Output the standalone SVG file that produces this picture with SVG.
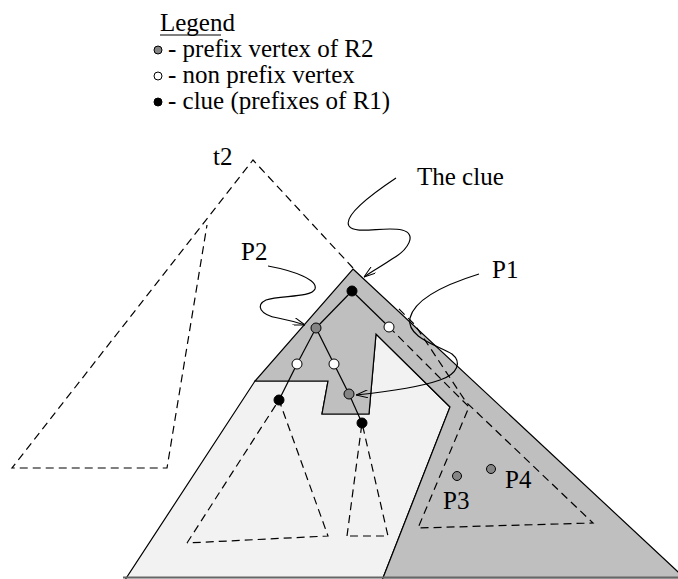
<svg xmlns="http://www.w3.org/2000/svg" width="678" height="579" viewBox="0 0 678 579">
<style>
text{font-family:"Liberation Serif","Times New Roman",serif;font-size:25px;fill:#000}
.sol{fill:none;stroke:#000;stroke-width:1.2}
.dash{fill:none;stroke:#000;stroke-width:1.2;stroke-dasharray:8 5}
.arr{fill:none;stroke:#000;stroke-width:1.2;marker-end:url(#ah)}
.vb{fill:#000;stroke:#000;stroke-width:1}
.vg{fill:#858585;stroke:#000;stroke-width:1}
.vw{fill:#fff;stroke:#000;stroke-width:1}
</style>
<defs>
<marker id="ah" viewBox="0 0 12 8" refX="12" refY="4" markerWidth="12" markerHeight="8" markerUnits="userSpaceOnUse" orient="auto">
<path d="M0,0 L12,4 L0,8" fill="none" stroke="#000" stroke-width="1"/>
</marker>
</defs>
<rect width="678" height="579" fill="#fff"/>

<g id="legend">
<text x="160" y="31">Legend</text>
<line x1="160" y1="35" x2="221" y2="35" stroke="#000" stroke-width="1"/>
<circle class="vg" cx="158" cy="50" r="4"/>
<text x="168" y="57">- prefix vertex of R2</text>
<circle class="vw" cx="158" cy="76" r="4"/>
<text x="168" y="83">- non prefix vertex</text>
<circle class="vb" cx="158" cy="102" r="4"/>
<text x="168" y="109">- clue (prefixes of R1)</text>
</g>

<g id="t2">
<polyline class="dash" points="353,268 253,160 12,468 167,468 207,225"/>
<text x="213" y="165">t2</text>
</g>

<g id="light-region">
<polygon points="255,381 328,381 322,414 369,414 376,334 450,407 381,583 123,583" fill="#f2f2f2" stroke="#000" stroke-width="1.2"/>
</g>
<g id="dark-region">
<polygon points="353,269 690,583 381,583 450,407 376,334 369,414 322,414 328,381 255,381" fill="#bfbfbf" stroke="#000" stroke-width="1.2"/>
</g>
<line x1="123" y1="577.5" x2="678" y2="577.5" stroke="#666" stroke-width="2"/>

<g id="subtrees">
<polyline class="dash" points="187,543 279,400 328,536 187,543"/>
<polyline class="dash" points="347,536 362,423 388,536 347,536"/>
<polyline class="dash" points="389,327 469,407 418,528 593,523 466,402 415,325 397,307"/>
</g>

<g id="connectors">
<line class="sol" x1="352" y1="291" x2="316" y2="328"/>
<line class="sol" x1="352" y1="291" x2="389" y2="327"/>
<line class="sol" x1="316" y1="328" x2="297" y2="364"/>
<line class="sol" x1="316" y1="328" x2="334" y2="364" stroke-width="1.6"/>
<line class="sol" x1="297" y1="364" x2="279" y2="400"/>
<line class="sol" x1="334" y1="364" x2="349" y2="394"/>
<line class="sol" x1="349" y1="394" x2="362" y2="423"/>
<path class="arr" d="M396,178 C372,194 343,216 349,226 C355,235 385,226 402,230 C418,234 408,250 392,259 C382,266 372,271 364,277"/>
<path class="arr" d="M268,266 C295,271 318,280 315,289 C311,298 280,295 266,300 C255,305 260,315 278,318 C288,320 296,322 305,325"/>
<path class="arr" d="M479,274 C450,283 415,298 410,318 C406,338 440,346 452,354 C462,362 458,374 440,380 C420,387 385,392 356,395"/>
</g>

<g id="v-clue-root"><circle class="vb" cx="352" cy="291" r="5"/></g>
<g id="v-p2"><circle class="vg" cx="316" cy="328" r="5"/></g>
<g id="v-p1"><circle class="vw" cx="389" cy="327" r="5"/></g>
<g id="v-d"><circle class="vw" cx="297" cy="364" r="5"/></g>
<g id="v-e"><circle class="vw" cx="334" cy="364" r="5"/></g>
<g id="v-f"><circle class="vg" cx="349" cy="394" r="5"/></g>
<g id="v-g"><circle class="vb" cx="279" cy="400" r="5"/></g>
<g id="v-h"><circle class="vb" cx="362" cy="423" r="5"/></g>
<g id="v-p3"><circle class="vg" cx="457" cy="476" r="4.5"/></g>
<g id="v-p4"><circle class="vg" cx="491" cy="469" r="4.5"/></g>

<g id="labels">
<text x="417" y="185">The clue</text>
<text x="241" y="260">P2</text>
<text x="492" y="278">P1</text>
<text x="443" y="509">P3</text>
<text x="505" y="488">P4</text>
</g>
</svg>
